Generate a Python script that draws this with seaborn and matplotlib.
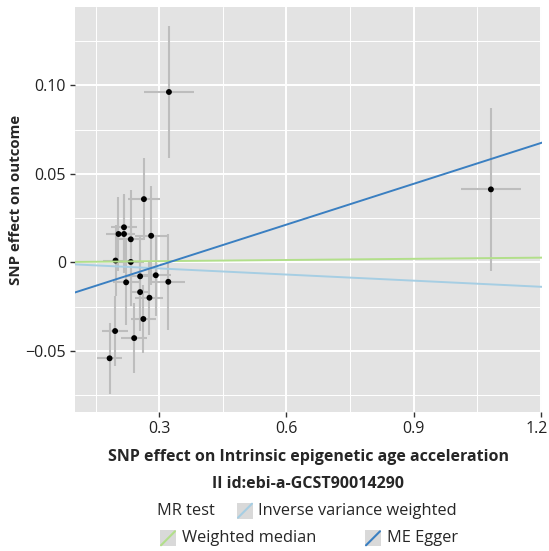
import numpy as np
import pandas as pd
import matplotlib
matplotlib.use("Agg")
import matplotlib.pyplot as plt
import matplotlib.transforms as mtransforms
from matplotlib.patches import Rectangle
from matplotlib.lines import Line2D
import seaborn as sns

# ---- data ----
snp_x = [0.323, 1.0825, 0.264, 0.217, 0.204, 0.217, 0.233, 0.281, 0.197, 0.233,
         0.255, 0.292, 0.222, 0.3215, 0.255, 0.277, 0.2626, 0.196, 0.241, 0.183]
snp_y = [0.0962, 0.0412, 0.0357, 0.0198, 0.016, 0.016, 0.013, 0.015, 0.001, 0.0002,
         -0.0079, -0.0073, -0.0113, -0.011, -0.0168, -0.020, -0.032, -0.0388, -0.0428, -0.0542]
snp_xse = [0.059, 0.070, 0.037, 0.030, 0.030, 0.025, 0.030, 0.039, 0.030, 0.030,
           0.030, 0.037, 0.030, 0.040, 0.019, 0.033, 0.030, 0.031, 0.031, 0.030]
snp_yse = [0.0375, 0.046, 0.023, 0.019, 0.021, 0.022, 0.028, 0.028, 0.020, 0.025,
           0.022, 0.023, 0.024, 0.027, 0.022, 0.021, 0.019, 0.0197, 0.0197, 0.020]

methods = ["Inverse variance weighted", "Weighted median", "ME Egger"]
slopes = [-0.0115, 0.0022, 0.0768]
intercepts = [0.0, 0.0, -0.0248]
method_colors = ["#a6cee3", "#b2df8a", "#3a7fc1"]

x_ticks = [0.3, 0.6, 0.9, 1.2]
x_ticklabels = ["0.3", "0.6", "0.9", "1.2"]
y_ticks = [0.10, 0.05, 0.0, -0.05]
y_ticklabels = ["0.10", "0.05", "0", "\u22120.05"]

xlim = (0.1014, 1.203)
ylim = (-0.0847, 0.1442)

# ---- figure ----
sns.set_style("white")
plt.rcParams['font.family'] = ['Open Sans', 'DejaVu Sans']

fig = plt.figure(figsize=(5.49, 5.51), dpi=100)
W, H = 549, 551
ax = fig.add_axes([75 / W, 1 - 412.3 / H, (542 - 75) / W, (412.3 - 7) / H])
ax.set_facecolor("#e3e3e3")
for s in ax.spines.values():
    s.set_visible(False)

ax.set_xlim(*xlim)
ax.set_ylim(*ylim)

# grid
minor_x = [0.15, 0.45, 0.75, 1.05]
minor_y = [0.125, 0.075, 0.025, -0.025, -0.075]
ax.set_xticks(minor_x, minor=True)
ax.set_yticks(minor_y, minor=True)
ax.grid(which="major", color="white", linewidth=1.4)
ax.grid(which="minor", color="white", linewidth=0.7)
ax.set_axisbelow(True)

df = pd.DataFrame({"x": snp_x, "y": snp_y, "xse": snp_xse, "yse": snp_yse})

ax.errorbar(df["x"], df["y"], yerr=df["yse"], fmt="none", ecolor="#bdbdbd",
            elinewidth=1.5, capsize=0, zorder=2)
ax.errorbar(df["x"], df["y"], xerr=df["xse"], fmt="none", ecolor="#bdbdbd",
            elinewidth=1.5, capsize=0, zorder=2)
sns.scatterplot(data=df, x="x", y="y", ax=ax, color="black", s=18,
                edgecolor="none", zorder=3, legend=False)

xs = np.array([xlim[0] - 0.05, xlim[1] + 0.05])
lines_df = pd.DataFrame({
    "x": np.tile(xs, len(methods)),
    "y": np.concatenate([intercepts[i] + slopes[i] * xs for i in range(len(methods))]),
    "method": np.repeat(methods, len(xs)),
})
sns.lineplot(data=lines_df, x="x", y="y", hue="method", hue_order=methods,
             palette=method_colors, ax=ax, linewidth=1.4, legend=False, zorder=4)
ax.set_xlim(*xlim)
ax.set_ylim(*ylim)

ax.set_xticks(x_ticks)
ax.set_xticklabels(x_ticklabels)
ax.set_yticks(y_ticks)
ax.set_yticklabels(y_ticklabels)
ax.tick_params(axis="both", which="major", length=3.5, width=1, color="#333333",
               labelsize=11.5, labelcolor="#222222", pad=3, direction="out",
               bottom=True, left=True)
ax.tick_params(axis="both", which="minor", length=0)
# keep the last x tick label inside the canvas
last = ax.get_xticklabels()[-1]
last.set_transform(last.get_transform() +
                   mtransforms.ScaledTranslation(-4 / 100, 0, fig.dpi_scale_trans))

ax.set_xlabel("")
ax.set_ylabel("")

fig.text(16 / W, 1 - 200 / H, "SNP effect on outcome", rotation=90,
         ha="center", va="center", fontsize=10.8, fontweight="bold")
fig.text(308 / W, 1 - 457 / H, "SNP effect on Intrinsic epigenetic age acceleration",
         ha="center", va="center", fontsize=11.5, fontweight="bold")
fig.text(308 / W, 1 - 484 / H, "II id:ebi-a-GCST90014290",
         ha="center", va="center", fontsize=11.5, fontweight="bold")

# legend
def key(xpx, ypx, color):
    size = 16
    x0, y0 = xpx / W, 1 - (ypx + size / 2) / H
    fig.patches.append(Rectangle((x0, y0), size / W, size / H, transform=fig.transFigure,
                                 facecolor="#d9d9d9", edgecolor="none"))
    fig.lines.append(Line2D([x0 + 1 / W, x0 + (size - 1) / W],
                            [y0 + 1 / H, y0 + (size - 1) / H],
                            transform=fig.transFigure, color=color, linewidth=1.5))

row1, row2 = 510.7, 538.3
fs = 11.8
fig.text(157 / W, 1 - row1 / H, "MR test", ha="left", va="center", fontsize=fs)
key(237, row1, method_colors[0])
fig.text(258 / W, 1 - row1 / H, methods[0], ha="left", va="center", fontsize=fs)
key(160, row2, method_colors[1])
fig.text(182 / W, 1 - row2 / H, methods[1], ha="left", va="center", fontsize=fs)
key(365, row2, method_colors[2])
fig.text(387 / W, 1 - row2 / H, methods[2], ha="left", va="center", fontsize=fs)

fig.savefig("out.png", dpi=100, facecolor="white")
